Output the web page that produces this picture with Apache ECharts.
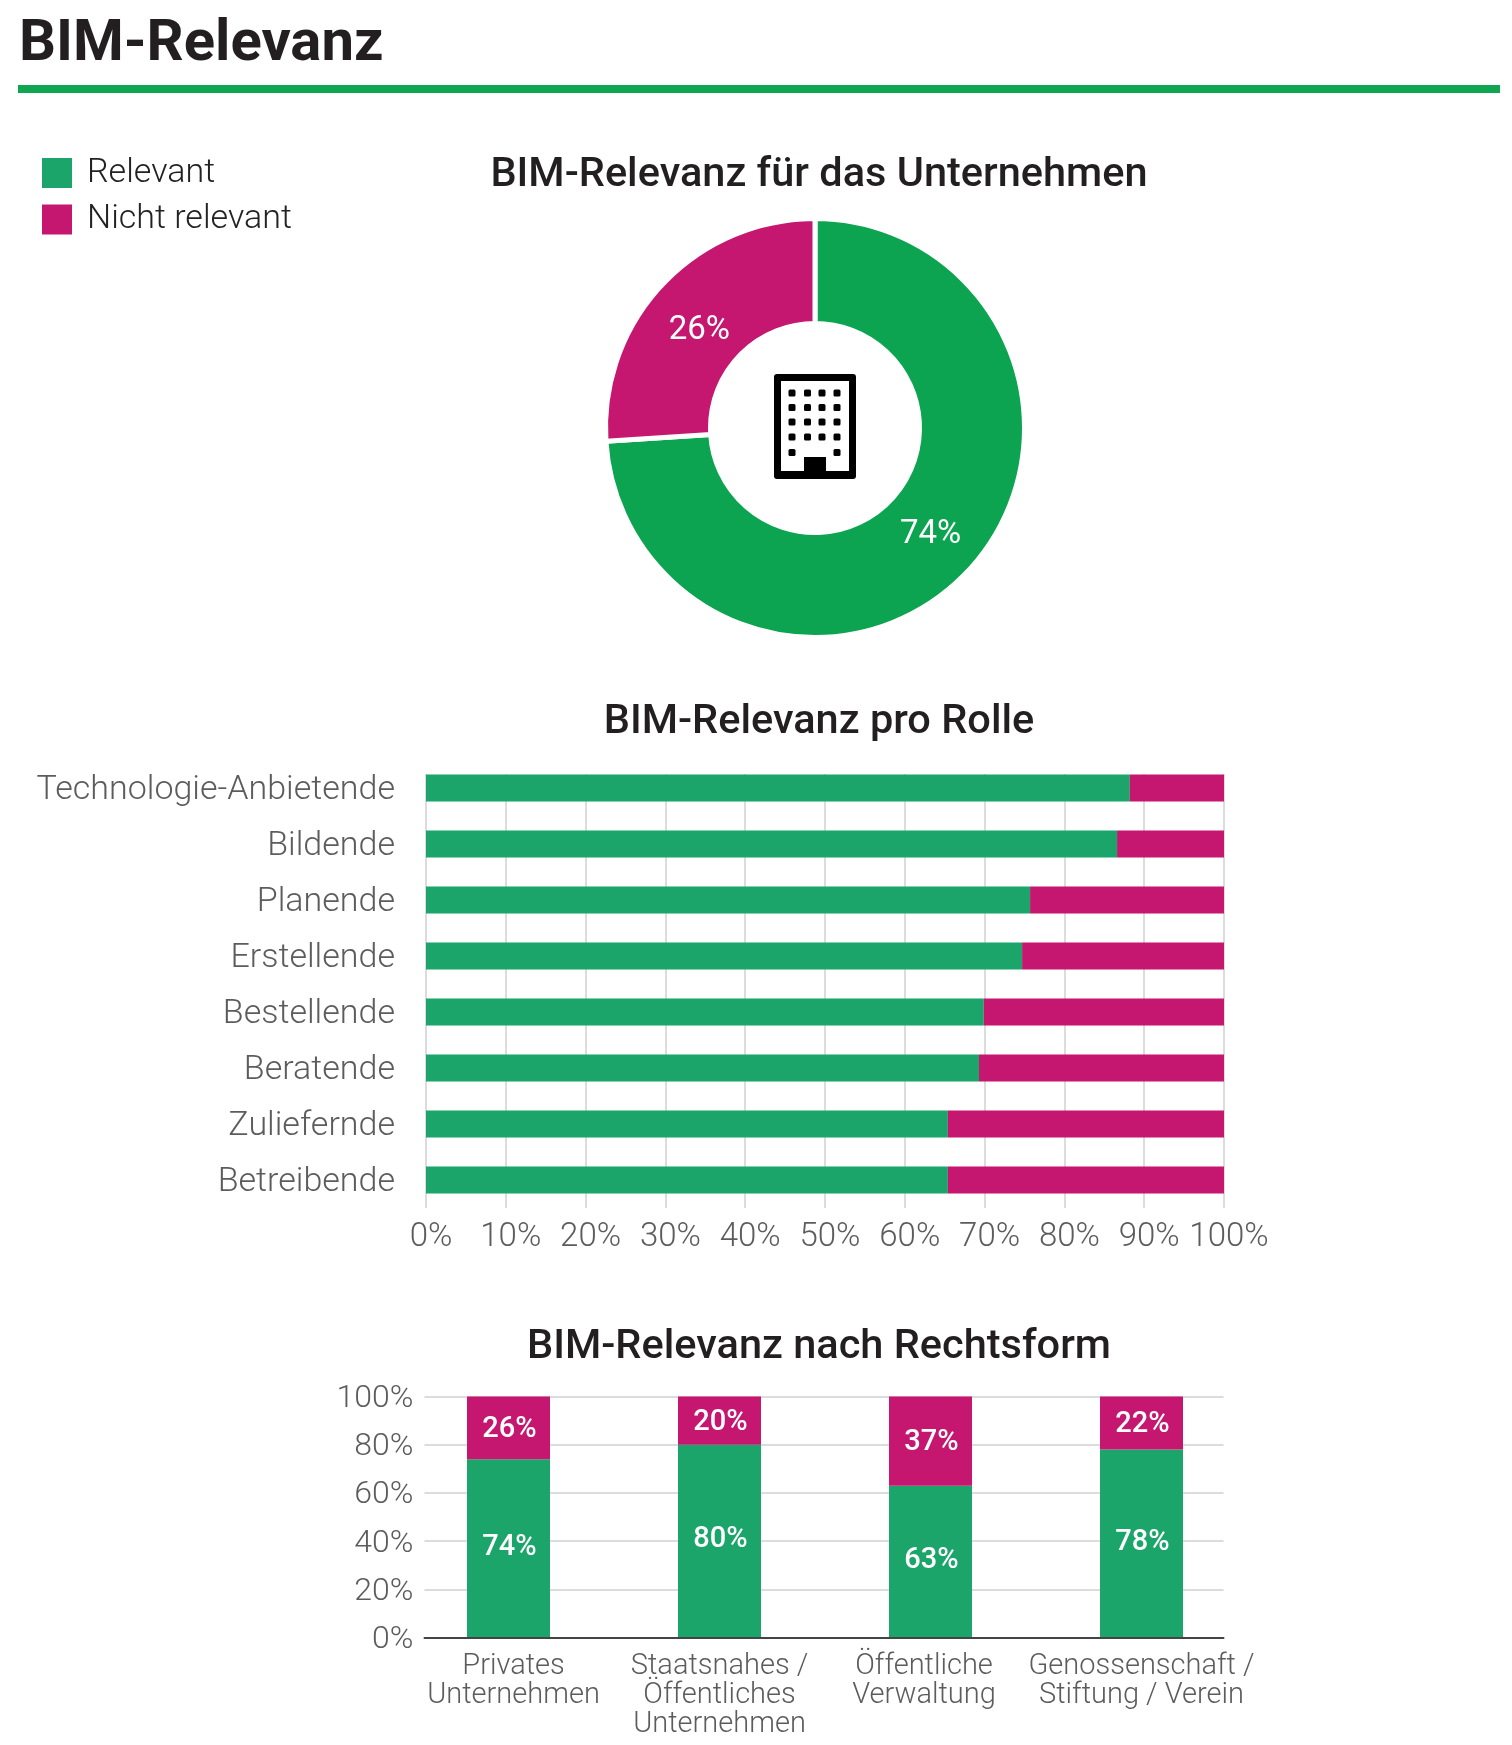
<!DOCTYPE html>
<html>
<head>
<meta charset="utf-8">
<title>BIM-Relevanz</title>
<style>
html, body { margin: 0; padding: 0; background: #fff; }
#main { width: 1512px; height: 1745px; }
</style>
<script src="https://cdn.jsdelivr.net/npm/echarts@6/dist/echarts.min.js"></script>
</head>
<body>
<div id="main"></div>
<script>
var seriesNames = ['Relevant', 'Nicht relevant'];

var donutValues = [74, 26];

var roles = ['Technologie-Anbietende', 'Bildende', 'Planende', 'Erstellende', 'Bestellende', 'Beratende', 'Zuliefernde', 'Betreibende'];
var roleRelevant = [88.2, 86.6, 75.7, 74.7, 69.9, 69.3, 65.4, 65.4];
var roleNotRelevant = [11.8, 13.4, 24.3, 25.3, 30.1, 30.7, 34.6, 34.6];

var legalForms = ['Privates\nUnternehmen', 'Staatsnahes /\nÖffentliches\nUnternehmen', 'Öffentliche\nVerwaltung', 'Genossenschaft /\nStiftung / Verein'];
var legalRelevant = [74, 80, 63, 78];
var legalNotRelevant = [26, 20, 37, 22];
// the labels do not sit exactly under the bars in the original
var legalLabelPadding = [[0, 0, 0, 10], [0, 0, 0, 0], [0, 13, 0, 0], [0, 0, 0, 0]];

var FONT = 'Roboto';
var GREEN = '#1ba56a';
var DONUT_GREEN = '#0ca450';
var PURPLE = '#c51770';
var GREY = '#5c5c5c';
var GRID_LINE = '#dcdcdc';

var myChart = echarts.init(document.getElementById('main'));

function chartTitle(text, top) {
    return {
        text: text,
        left: 819,
        top: top,
        textAlign: 'center',
        padding: 0,
        textStyle: { fontFamily: FONT, fontSize: 41.5, fontWeight: 500, color: '#231f20' }
    };
}

// building icon in the middle of the donut
function buildingIcon() {
    var children = [
        { type: 'rect', shape: { x: 774, y: 374, width: 82, height: 105, r: 3 }, style: { fill: '#000' } },
        { type: 'rect', shape: { x: 781, y: 381, width: 68, height: 90 }, style: { fill: '#fff' } },
        { type: 'rect', shape: { x: 804, y: 457, width: 22, height: 17 }, style: { fill: '#000' } }
    ];
    var cols = [792, 807.5, 822, 837];
    var rows = [393, 407.5, 422, 437, 452.5];
    for (var r = 0; r < rows.length; r++) {
        for (var c = 0; c < cols.length; c++) {
            if (r == 4 && (c == 1 || c == 2)) {
                continue;
            }
            children.push({
                type: 'rect',
                shape: { x: cols[c] - 3.5, y: rows[r] - 3.5, width: 7, height: 7, r: 1.5 },
                style: { fill: '#000' }
            });
        }
    }
    return { type: 'group', children: children };
}

function stackLabel(offset) {
    return {
        show: true,
        position: 'inside',
        offset: offset,
        formatter: '{c}%',
        fontFamily: FONT,
        fontSize: 29,
        fontWeight: 500,
        color: '#fff'
    };
}

// rich style pushes the y axis labels a little down
function lowerLabel(size) {
    return {
        t: { fontFamily: FONT, fontSize: size, fontWeight: 300, color: GREY, padding: [5, 0, 0, 0] }
    };
}

var option = {
    animation: false,
    backgroundColor: '#fff',
    title: [
        {
            text: 'BIM-Relevanz',
            left: 19,
            top: 16.5,
            padding: 0,
            textStyle: { fontFamily: FONT, fontSize: 58, fontWeight: 700, color: '#231f20' }
        },
        chartTitle('BIM-Relevanz für das Unternehmen', 155),
        chartTitle('BIM-Relevanz pro Rolle', 702),
        chartTitle('BIM-Relevanz nach Rechtsform', 1327)
    ],
    legend: {
        orient: 'vertical',
        left: 42,
        top: 156,
        padding: 0,
        itemWidth: 30,
        itemHeight: 30,
        itemGap: 12.5,
        selectedMode: false,
        data: [
            { name: seriesNames[0], icon: 'rect', itemStyle: { color: GREEN } },
            { name: seriesNames[1], icon: 'rect', itemStyle: { color: PURPLE } }
        ],
        textStyle: { fontFamily: FONT, fontSize: 34, fontWeight: 300, color: '#222', padding: [0, 0, 0, 10] }
    },
    graphic: [
        { type: 'rect', shape: { x: 18, y: 85, width: 1482, height: 8 }, style: { fill: '#10a550' } },
        buildingIcon()
    ],
    // grids 0 and 2 hold the bars, grids 1 and 3 only the grid lines and value labels
    grid: [
        { left: 426, top: 760, width: 798, height: 448 },
        { left: 426, top: 774, width: 798, height: 434 },
        { left: 403, top: 1396.5, width: 844, height: 241 },
        { left: 424.5, top: 1396.5, width: 799, height: 241 }
    ],
    xAxis: [
        { gridIndex: 0, type: 'value', min: 0, max: 100, show: false },
        {
            gridIndex: 1,
            type: 'value',
            min: 0,
            max: 100,
            interval: 10,
            axisLine: { show: false },
            axisTick: { show: false },
            splitLine: { show: true, lineStyle: { color: GRID_LINE, width: 2 } },
            axisLabel: {
                margin: 13,
                padding: [0, 0, 0, 10],
                formatter: '{value}%',
                fontFamily: FONT,
                fontSize: 33,
                fontWeight: 300,
                color: GREY
            }
        },
        {
            gridIndex: 2,
            type: 'category',
            data: legalForms.map(function (name, i) {
                return { value: name, textStyle: { padding: legalLabelPadding[i] } };
            }),
            axisLine: { show: false },
            axisTick: { show: false },
            axisLabel: {
                margin: 15,
                interval: 0,
                lineHeight: 29,
                fontFamily: FONT,
                fontSize: 29,
                fontWeight: 300,
                color: GREY
            }
        },
        {
            gridIndex: 3,
            type: 'value',
            min: 0,
            max: 100,
            z: 3,
            axisLine: { show: true, onZero: false, lineStyle: { color: '#444', width: 2 } },
            axisTick: { show: false },
            axisLabel: { show: false },
            splitLine: { show: false }
        }
    ],
    yAxis: [
        {
            gridIndex: 0,
            type: 'category',
            inverse: true,
            data: roles,
            axisLine: { show: false },
            axisTick: { show: false },
            axisLabel: {
                margin: 31,
                interval: 0,
                formatter: '{t|{value}}',
                rich: lowerLabel(34)
            }
        },
        { gridIndex: 1, type: 'value', min: 0, max: 100, show: false },
        { gridIndex: 2, type: 'value', min: 0, max: 100, show: false },
        {
            gridIndex: 3,
            type: 'value',
            min: 0,
            max: 100,
            interval: 20,
            axisLine: { show: false },
            axisTick: { show: false },
            splitLine: { show: true, lineStyle: { color: GRID_LINE, width: 2 } },
            axisLabel: {
                margin: 11,
                formatter: '{t|{value}%}',
                rich: lowerLabel(32)
            }
        }
    ],
    series: [
        {
            type: 'pie',
            center: [815, 428],
            radius: [104.5, 209.5],
            startAngle: 90,
            clockwise: true,
            silent: true,
            itemStyle: { borderColor: '#fff', borderWidth: 5 },
            label: {
                show: true,
                position: 'inside',
                formatter: '{c}%',
                fontFamily: FONT,
                fontSize: 33,
                fontWeight: 400,
                color: '#fff'
            },
            labelLine: { show: false },
            data: [
                { name: seriesNames[0], value: donutValues[0], itemStyle: { color: DONUT_GREEN }, label: { offset: [-1, -3] } },
                { name: seriesNames[1], value: donutValues[1], itemStyle: { color: PURPLE }, label: { offset: [1, 12] } }
            ]
        },
        {
            name: seriesNames[0],
            type: 'bar',
            xAxisIndex: 0,
            yAxisIndex: 0,
            stack: 'rolle',
            barWidth: 27,
            itemStyle: { color: GREEN },
            data: roleRelevant
        },
        {
            name: seriesNames[1],
            type: 'bar',
            xAxisIndex: 0,
            yAxisIndex: 0,
            stack: 'rolle',
            barWidth: 27,
            itemStyle: { color: PURPLE },
            data: roleNotRelevant
        },
        {
            name: seriesNames[0],
            type: 'bar',
            xAxisIndex: 2,
            yAxisIndex: 2,
            stack: 'form',
            barWidth: 83,
            itemStyle: { color: GREEN },
            label: stackLabel([1, -1]),
            data: legalRelevant
        },
        {
            name: seriesNames[1],
            type: 'bar',
            xAxisIndex: 2,
            yAxisIndex: 2,
            stack: 'form',
            barWidth: 83,
            itemStyle: { color: PURPLE },
            label: stackLabel([1, 2]),
            data: legalNotRelevant
        }
    ]
};
myChart.setOption(option);
</script>
</body>
</html>
